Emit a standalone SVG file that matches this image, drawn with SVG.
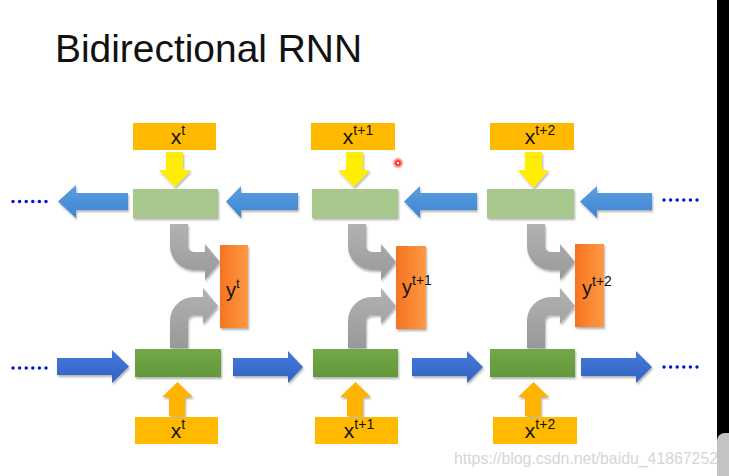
<svg xmlns="http://www.w3.org/2000/svg" width="729" height="476" viewBox="0 0 729 476">
<defs>
<style>
.t{font-family:"Liberation Sans",Arial,sans-serif;fill:#111}
.xb{fill:#FFBA00}
.gt{fill:#A8C88E}
.gb{fill:url(#gbg)}
.yb{fill:url(#ybg)}
.ab1{fill:url(#blueT)}
.ab2{fill:url(#blueB)}
.ay{fill:#FFEE00}
.ao{fill:#FFB300}
.ag{fill:url(#grayg)}
.dot{fill:#0010E0}
</style>
<linearGradient id="gbg" x1="0" y1="0" x2="0" y2="1"><stop offset="0" stop-color="#72A846"/><stop offset="1" stop-color="#63993B"/></linearGradient>
<linearGradient id="ybg" x1="0" y1="0" x2="1" y2="0"><stop offset="0" stop-color="#F57420"/><stop offset="1" stop-color="#FF9844"/></linearGradient>
<linearGradient id="blueT" x1="0" y1="0" x2="0" y2="1"><stop offset="0" stop-color="#5A9FE2"/><stop offset="1" stop-color="#3E84CF"/></linearGradient>
<linearGradient id="blueB" x1="0" y1="0" x2="0" y2="1"><stop offset="0" stop-color="#4479D8"/><stop offset="1" stop-color="#3264C4"/></linearGradient>
<linearGradient id="grayg" x1="0" y1="0" x2="0" y2="1"><stop offset="0" stop-color="#B2B2B2"/><stop offset="1" stop-color="#999"/></linearGradient>
<filter id="sh" x="-20%" y="-20%" width="140%" height="150%"><feDropShadow dx="1" dy="2" stdDeviation="1.3" flood-color="#000" flood-opacity="0.3"/></filter>
<radialGradient id="red"><stop offset="0.35" stop-color="#ff2a2a"/><stop offset="1" stop-color="#ff6060" stop-opacity="0"/></radialGradient>
</defs>
<rect width="729" height="476" fill="#fff"/>
<text class="t" x="55" y="62" font-size="39" textLength="307" lengthAdjust="spacingAndGlyphs">Bidirectional RNN</text>

<g id="connectors" filter="url(#sh)">
<!-- top row, leftward blue arrows -->
<path class="ab1" d="M128,193 V210 H76 V218 L58,201.5 L76,185 V193 Z"/>
<path class="ab1" d="M298,193 V210 H241 V218 L226,201.5 L241,186 V193 Z"/>
<path class="ab1" d="M477,193 V210 H420 V218 L404,201.5 L420,186 V193 Z"/>
<path class="ab1" d="M652,193 V210 H597 V218 L580,201.5 L597,186 V193 Z"/>
<!-- bottom row, rightward blue arrows -->
<path class="ab2" d="M57,358 V375 H112 V383 L129,366.5 L112,350 V358 Z"/>
<path class="ab2" d="M233,358 V376 H288 V383 L303,367 L288,351 V358 Z"/>
<path class="ab2" d="M412,358 V376 H467 V383 L483,367 L467,351 V358 Z"/>
<path class="ab2" d="M581,358 V376 H636 V383 L652,367 L636,351 V358 Z"/>
<!-- yellow input arrows (top) -->
<path class="ay" d="M166,152 H183 V170 H191 L175,187 L159,170 H166 Z"/>
<path class="ay" d="M346,152 H363 V170 H370 L354,187 L338,170 H346 Z"/>
<path class="ay" d="M525,152 H542 V170 H549 L533.5,188 L518,170 H525 Z"/>
<!-- orange input arrows (bottom) -->
<path class="ao" d="M169,416 V397 H162 L177.5,382 L193,397 H185 V416 Z"/>
<path class="ao" d="M347,416 V397 H340 L355.5,382 L371,397 H363 V416 Z"/>
<path class="ao" d="M525,416 V397 H518 L533.5,382 L549,397 H541 V416 Z"/>
<!-- gray output arrows -->
<g id="gray1">
<path class="ag" d="M170,224 H188 V246 A6,6 0 0 0 194,252 H205 V244 L220,262 L205,280 V270 H194 A24,24 0 0 1 170,246 Z"/>
<path class="ag" d="M170,348 V321 A24,24 0 0 1 194,297 H203 V288 L218,306 L203,324 V315 H194 A6,6 0 0 0 188,321 V348 Z"/>
</g>
<g transform="translate(178,0)">
<path class="ag" d="M170,224 H188 V246 A6,6 0 0 0 194,252 H203 V244 L218,262 L203,280 V270 H194 A24,24 0 0 1 170,246 Z"/>
<path class="ag" d="M170,348 V321 A24,24 0 0 1 194,297 H203 V288 L218,306 L203,324 V315 H194 A6,6 0 0 0 188,321 V348 Z"/>
</g>
<g transform="translate(357,0)">
<path class="ag" d="M170,224 H188 V246 A6,6 0 0 0 194,252 H203 V244 L218,262 L203,280 V270 H194 A24,24 0 0 1 170,246 Z"/>
<path class="ag" d="M170,348 V321 A24,24 0 0 1 194,297 H203 V288 L218,306 L203,324 V315 H194 A6,6 0 0 0 188,321 V348 Z"/>
</g>
</g>

<!-- dots -->
<g id="dots">
<g class="dot"><circle cx="13" cy="201.5" r="1.7"/><circle cx="19.6" cy="201.5" r="1.7"/><circle cx="26.2" cy="201.5" r="1.7"/><circle cx="32.8" cy="201.5" r="1.7"/><circle cx="39.4" cy="201.5" r="1.7"/><circle cx="46" cy="201.5" r="1.7"/></g>
<g class="dot"><circle cx="13" cy="368" r="1.7"/><circle cx="19.6" cy="368" r="1.7"/><circle cx="26.2" cy="368" r="1.7"/><circle cx="32.8" cy="368" r="1.7"/><circle cx="39.4" cy="368" r="1.7"/><circle cx="46" cy="368" r="1.7"/></g>
<g class="dot"><circle cx="664" cy="200" r="1.7"/><circle cx="670.6" cy="200" r="1.7"/><circle cx="677.2" cy="200" r="1.7"/><circle cx="683.8" cy="200" r="1.7"/><circle cx="690.4" cy="200" r="1.7"/><circle cx="697" cy="200" r="1.7"/></g>
<g class="dot"><circle cx="664" cy="367" r="1.7"/><circle cx="670.6" cy="367" r="1.7"/><circle cx="677.2" cy="367" r="1.7"/><circle cx="683.8" cy="367" r="1.7"/><circle cx="690.4" cy="367" r="1.7"/><circle cx="697" cy="367" r="1.7"/></g>
</g>

<!-- top input nodes -->
<g id="xtop1"><rect class="xb" x="133" y="123" width="83" height="27"/><text class="t" x="178" y="144" font-size="21" text-anchor="middle">x<tspan dy="-9" font-size="14">t</tspan></text></g>
<g id="xtop2"><rect class="xb" x="311" y="123" width="84" height="27"/><text class="t" x="358" y="144" font-size="21" text-anchor="middle">x<tspan dy="-9" font-size="14">t+1</tspan></text></g>
<g id="xtop3"><rect class="xb" x="490" y="123" width="84" height="27"/><text class="t" x="540" y="144" font-size="21" text-anchor="middle">x<tspan dy="-9" font-size="14">t+2</tspan></text></g>

<!-- backward hidden nodes -->
<g id="htop1" filter="url(#sh)"><rect class="gt" x="133" y="189" width="85" height="29"/></g>
<g id="htop2" filter="url(#sh)"><rect class="gt" x="312" y="189" width="86" height="29"/></g>
<g id="htop3" filter="url(#sh)"><rect class="gt" x="487" y="189" width="87" height="29"/></g>

<!-- forward hidden nodes -->
<g id="hbot1" filter="url(#sh)"><rect class="gb" x="135" y="349" width="86" height="28"/></g>
<g id="hbot2" filter="url(#sh)"><rect class="gb" x="313" y="349" width="85" height="28"/></g>
<g id="hbot3" filter="url(#sh)"><rect class="gb" x="490" y="349" width="85" height="28"/></g>

<!-- output nodes -->
<g id="y1"><rect class="yb" x="220" y="245" width="28" height="83" filter="url(#sh)"/><text class="t" x="226" y="297" font-size="20">y<tspan dy="-9" font-size="13">t</tspan></text></g>
<g id="y2"><rect class="yb" x="396" y="246" width="30" height="83" filter="url(#sh)"/><text class="t" x="402" y="294" font-size="20">y<tspan dy="-9" font-size="14">t+1</tspan></text></g>
<g id="y3"><rect class="yb" x="575" y="244" width="29" height="83" filter="url(#sh)"/><text class="t" x="582" y="295" font-size="20">y<tspan dy="-9" font-size="14">t+2</tspan></text></g>

<!-- bottom input nodes -->
<g id="xbot1"><rect class="xb" x="135" y="417" width="83" height="27"/><text class="t" x="178" y="438" font-size="21" text-anchor="middle">x<tspan dy="-9" font-size="14">t</tspan></text></g>
<g id="xbot2"><rect class="xb" x="315" y="417" width="83" height="27"/><text class="t" x="359" y="438" font-size="21" text-anchor="middle">x<tspan dy="-9" font-size="14">t+1</tspan></text></g>
<g id="xbot3"><rect class="xb" x="493" y="417" width="84" height="27"/><text class="t" x="540" y="438" font-size="21" text-anchor="middle">x<tspan dy="-9" font-size="14">t+2</tspan></text></g>

<!-- cursor mark -->
<circle cx="398" cy="163" r="6" fill="url(#red)"/>
<circle cx="398" cy="163" r="1.2" fill="#fff"/>

<!-- watermark -->
<text x="454" y="464" font-family="'Liberation Sans',Arial,sans-serif" font-size="16" fill="#D6D6D6" textLength="264" lengthAdjust="spacingAndGlyphs">https://blog.csdn.net/baidu_41867252</text>

<!-- right edge -->
<rect x="717" y="0" width="12" height="476" fill="#000"/>
<rect x="717" y="433" width="24" height="60" rx="8" fill="#C4C4C4"/>
</svg>
